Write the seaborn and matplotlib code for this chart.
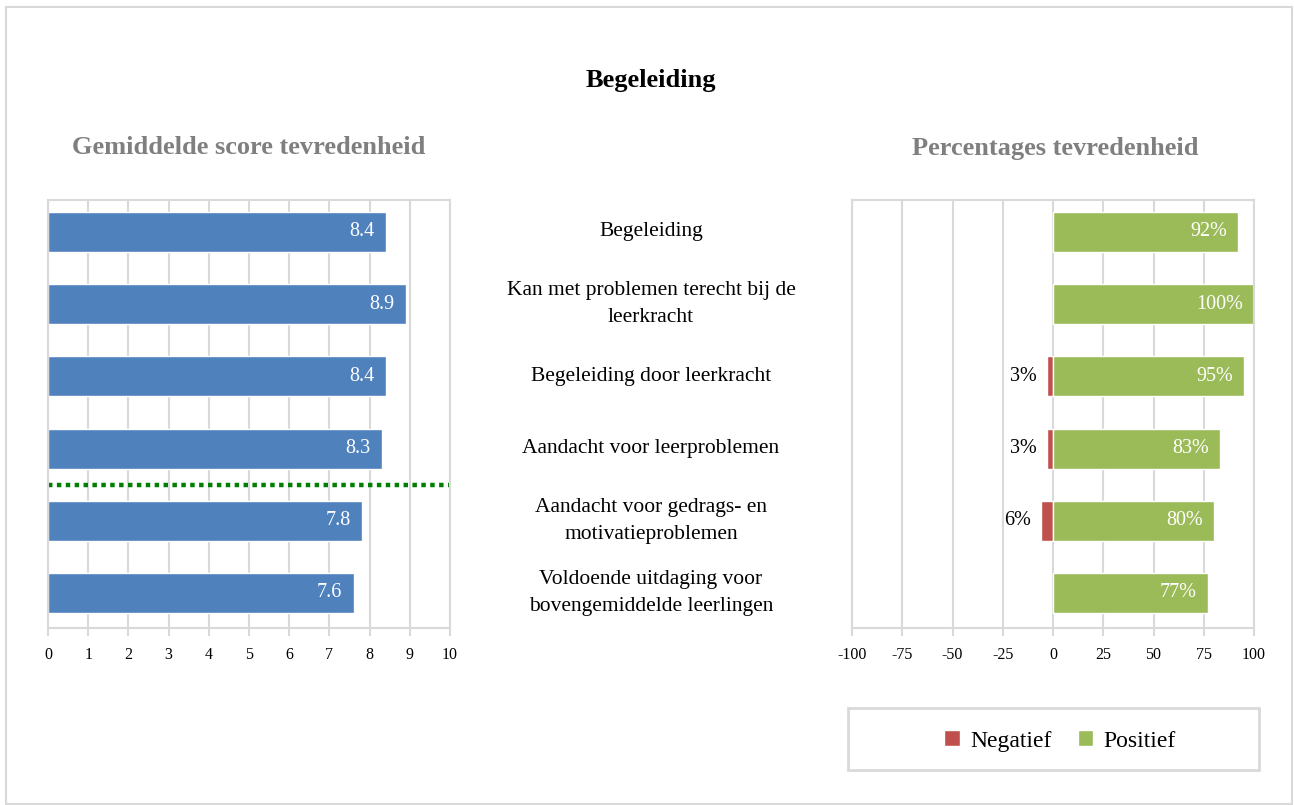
import pandas as pd
import seaborn as sns
import matplotlib.pyplot as plt
from matplotlib.patches import Rectangle

# data
labels = ['Begeleiding',
          'Kan met problemen terecht bij de\nleerkracht',
          'Begeleiding door leerkracht',
          'Aandacht voor leerproblemen',
          'Aandacht voor gedrags- en\nmotivatieproblemen',
          'Voldoende uitdaging voor\nbovengemiddelde leerlingen']
scores = [8.4, 8.9, 8.4, 8.3, 7.8, 7.6]
negatief = [0, 0, 3, 3, 6, 0]
positief = [92, 100, 95, 83, 80, 77]
score_ticks = list(range(0, 11))
pct_ticks = [-100, -75, -50, -25, 0, 25, 50, 75, 100]

blue = '#4F81BD'
green = '#9BBB59'
red = '#C0504D'
grid = '#D9D9D9'

sns.set_style('white')
plt.rcParams['font.family'] = ['Liberation Serif', 'DejaVu Serif']
plt.rcParams['text.color'] = 'black'
plt.rcParams['xtick.labelcolor'] = 'black'
plt.rcParams['axes.unicode_minus'] = False

W, H = 1294, 805
fig = plt.figure(figsize=(W / 100, H / 100), dpi=100)


def box(x0, y0, x1, y1):
    return [x0 / W, 1 - y1 / H, (x1 - x0) / W, (y1 - y0) / H]


ax1 = fig.add_axes(box(48, 200, 450, 628))
axm = fig.add_axes(box(450, 200, 852, 628))
ax2 = fig.add_axes(box(852, 200, 1254, 628))
ylim = (5.485, -0.443)

# left: average scores
df1 = pd.DataFrame({'vraag': labels, 'score': scores})
sns.barplot(data=df1, x='score', y='vraag', color=blue, width=0.555,
            saturation=1, ax=ax1)
ax1.axhline(3.5, color='#008000', lw=3.2, linestyle=(0, (1, 1)))
for i, v in enumerate(scores):
    ax1.annotate(f'{v:.1f}', (v, i), xytext=(-8, 0), textcoords='offset points',
                 ha='right', va='center', color='white', fontsize=14.5)
ax1.set_xlim(0, 10)
ax1.set_xticks(score_ticks)

# right: percentages
df2 = pd.DataFrame({'vraag': labels * 2,
                    'pct': [-n for n in negatief] + positief,
                    'oordeel': ['Negatief'] * len(labels) + ['Positief'] * len(labels)})
sns.barplot(data=df2, x='pct', y='vraag', hue='oordeel', palette=[red, green],
            dodge=False, width=0.555, saturation=1, ax=ax2)
for i, (n, p) in enumerate(zip(negatief, positief)):
    ax2.annotate(f'{p}%', (p, i), xytext=(-8, 0), textcoords='offset points',
                 ha='right', va='center', color='white', fontsize=14.5)
    if n > 0:
        ax2.annotate(f'{n}%', (-n, i), xytext=(-7, 0), textcoords='offset points',
                     ha='right', va='center', color='black', fontsize=14.5)
ax2.set_xlim(-100, 100)
ax2.set_xticks(pct_ticks)
handles, leg_labels = ax2.get_legend_handles_labels()
ax2.get_legend().remove()

for ax in (ax1, ax2):
    ax.set_ylim(*ylim)
    ax.set_xlabel('')
    ax.set_ylabel('')
    ax.grid(axis='x', color=grid, lw=1.5)
    ax.set_axisbelow(True)
    ax.tick_params(axis='y', left=False, labelleft=False)
    ax.tick_params(axis='x', bottom=True, length=6, width=1.5, color=grid,
                   labelsize=11.5, pad=8)
    for s in ax.spines.values():
        s.set_color(grid)
        s.set_linewidth(1.5)

# middle: question labels
axm.set_xlim(0, 1)
axm.set_ylim(*ylim)
axm.set_axis_off()
for i, lab in enumerate(labels):
    axm.text(0.5, i, lab, ha='center', va='center', fontsize=15.5,
             linespacing=1.55)

# titles
fig.text(651 / W, 1 - 80 / H, 'Begeleiding', ha='center', va='center',
         fontsize=19, fontweight='bold')
fig.text(249 / W, 1 - 148 / H, 'Gemiddelde score tevredenheid', ha='center',
         va='center', fontsize=19, fontweight='bold', color='#7F7F7F')
fig.text(1055 / W, 1 - 148 / H, 'Percentages tevredenheid', ha='center',
         va='center', fontsize=19, fontweight='bold', color='#7F7F7F')

# legend with box
fig.patches.append(Rectangle((848 / W, 1 - 770 / H), 411 / W, 62 / H,
                             transform=fig.transFigure, fill=False,
                             edgecolor=grid, lw=2))
fig.legend(handles, leg_labels, loc='center', bbox_to_anchor=(1060 / W, 1 - 741 / H),
           ncol=2, frameon=False, fontsize=17, handlelength=0.65, handleheight=0.65,
           columnspacing=1.1, handletextpad=0.45)

# outer border
fig.patches.append(Rectangle((6 / W, 1 / H), 1286 / W, 797 / H,
                             transform=fig.transFigure, fill=False,
                             edgecolor=grid, lw=1.5))

fig.savefig('out.png', dpi=100)
